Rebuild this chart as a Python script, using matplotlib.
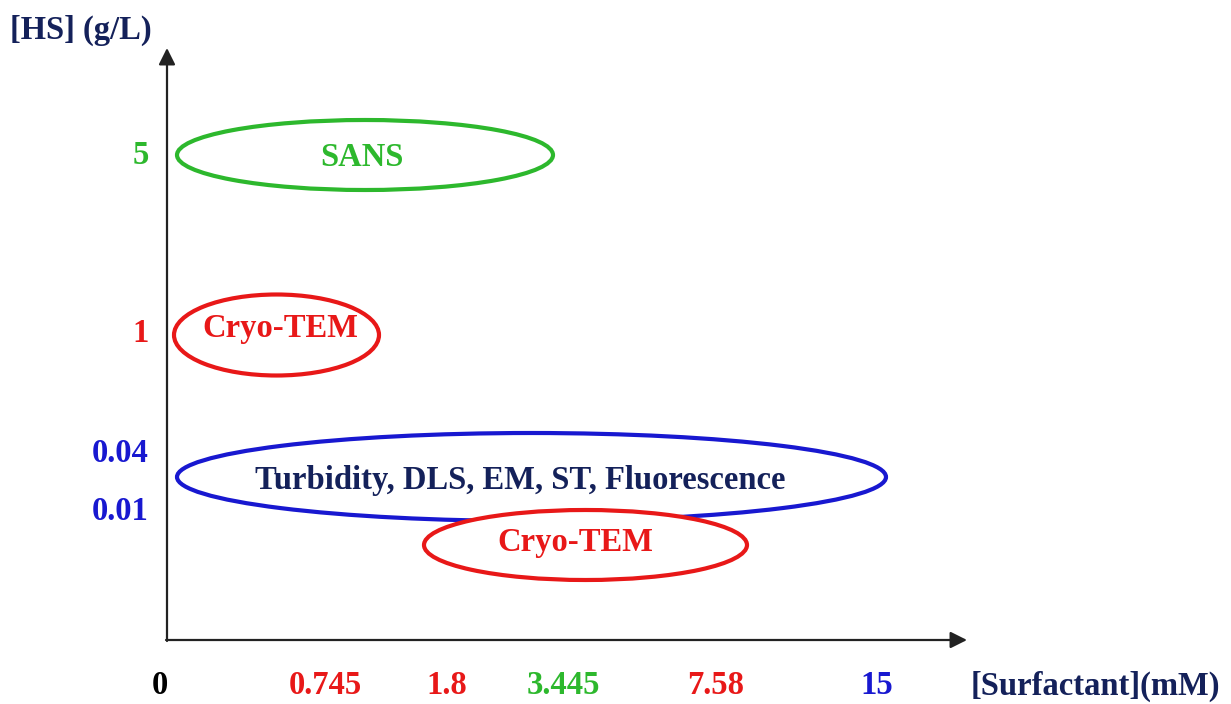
import matplotlib.pyplot as plt
from matplotlib.patches import Ellipse

# data
x_labels = ["0", "0.745", "1.8", "3.445", "7.58", "15"]
x_colors = ["black", "#e81818", "#e81818", "#2db82d", "#e81818", "#1818d0"]
y_labels = ["5", "1", "0.04", "0.01"]
y_colors = ["#2db82d", "#e81818", "#1818d0", "#1818d0"]
methods = ["SANS", "Cryo-TEM", "Turbidity, DLS, EM, ST, Fluorescence", "Cryo-TEM"]
method_edge = ["#2db82d", "#e81818", "#1818d0", "#e81818"]
method_text = ["#2db82d", "#e81818", "#14215a", "#e81818"]

# layout (schematic units, origin at the axes corner)
x_pos = [-7, 158, 280, 396, 549, 710]
y_pos = [485, 307, 187, 128]
ell_x = [(10, 386), (7, 212), (10, 719), (257, 580)]
ell_y = [485, 305, 163, 95]
ell_h = [70, 81, 88, 70]
txt_xy = [(195, 483), (113, 312), (353, 159), (408, 97)]

plt.rcParams['font.family'] = ['Liberation Serif', 'DejaVu Serif']
navy = "#14215a"
fs = 23.5

fig = plt.figure(figsize=(12.31, 7.04), dpi=100)
ax = fig.add_axes([0, 0, 1, 1])
ax.set_xlim(-167, 1231 - 167)
ax.set_ylim(-64, 640)
ax.axis('off')

# axes arrows
ax.annotate('', xy=(0, 592), xytext=(0, -1),
            arrowprops=dict(arrowstyle='-|>', color='#222222', lw=1.6,
                            mutation_scale=25, shrinkA=0, shrinkB=0))
ax.annotate('', xy=(800, 0), xytext=(-1, 0),
            arrowprops=dict(arrowstyle='-|>', color='#222222', lw=1.6,
                            mutation_scale=25, shrinkA=0, shrinkB=0))

for i, name in enumerate(methods):
    x0, x1 = ell_x[i]
    e = Ellipse(((x0 + x1) / 2, ell_y[i]), x1 - x0, ell_h[i],
                facecolor='white', edgecolor=method_edge[i], lw=3, zorder=2 + i)
    ax.add_patch(e)
    ax.text(txt_xy[i][0], txt_xy[i][1], name, color=method_text[i],
            fontsize=fs, fontweight='bold', ha='center', va='center', zorder=10)

for lab, x, c in zip(x_labels, x_pos, x_colors):
    ax.text(x, -46, lab, color=c, fontsize=fs, fontweight='bold',
            ha='center', va='center')
ax.text(928, -46, "[Surfactant](mM)", color=navy, fontsize=fs,
        fontweight='bold', ha='center', va='center')

for lab, y, c in zip(y_labels, y_pos, y_colors):
    ax.text(-18, y, lab, color=c, fontsize=fs, fontweight='bold',
            ha='right', va='center')
ax.text(-86, 610, "[HS] (g/L)", color=navy, fontsize=fs,
        fontweight='bold', ha='center', va='center')

fig.savefig('out.png', dpi=100)
